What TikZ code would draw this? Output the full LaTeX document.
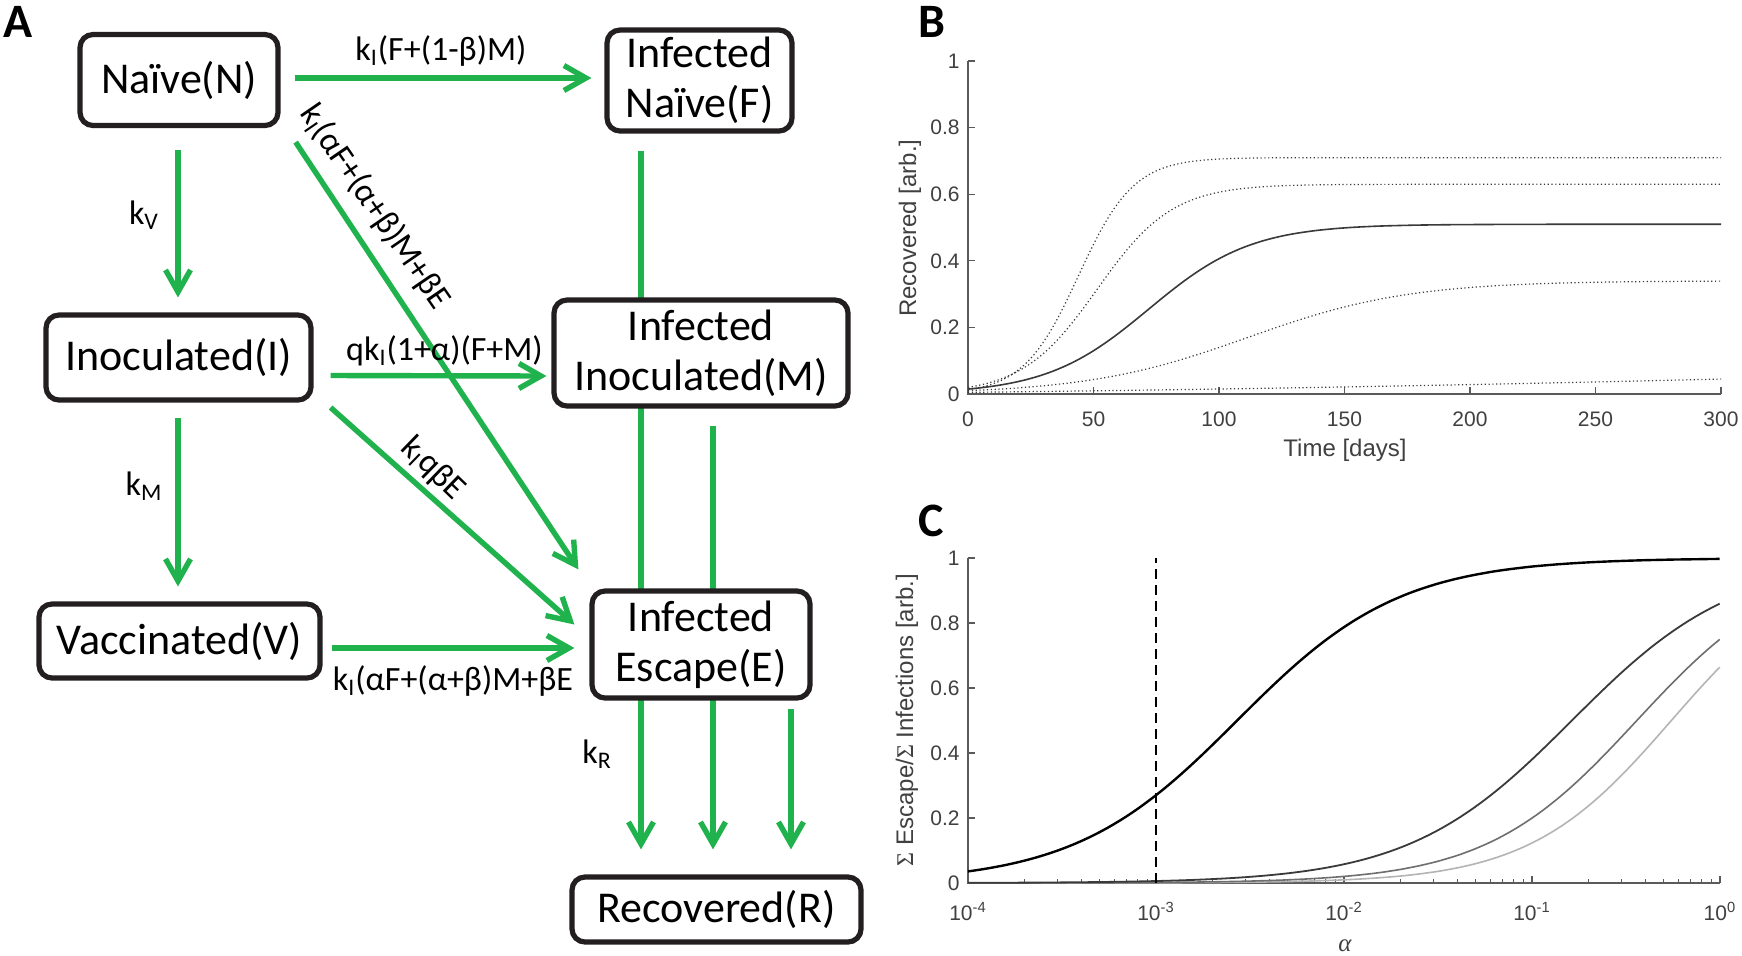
\documentclass[tikz,border=0pt]{standalone}
\usepackage{fontspec}
\setmainfont{Carlito}
\newfontfamily\plotfont{Liberation Sans}
\newfontfamily\grkfont{Liberation Serif}
\usetikzlibrary{arrows.meta,calc,backgrounds}
\definecolor{grn}{RGB}{32,178,76}
\definecolor{boxc}{RGB}{35,31,32}
\definecolor{axc}{RGB}{90,90,90}
\definecolor{txc}{RGB}{64,64,64}
\definecolor{cv2}{RGB}{58,58,58}
\definecolor{cv3}{RGB}{110,110,110}
\definecolor{cv4}{RGB}{180,180,180}
\begin{document}
\begin{tikzpicture}[x=0.5pt,y=-0.5pt,
  box/.style={draw=boxc, line width=2.6pt, rounded corners=6.5pt, fill=white, align=center, inner sep=0pt, font=\fontsize{22}{25}\selectfont},
  flow/.style={draw=grn, line width=2.7pt, -{Straight Barb[length=11pt,width=12.5pt]}},
  lab/.style={font=\fontsize{17}{19}\selectfont, inner sep=0pt},
  panel/.style={font=\bfseries\fontsize{24}{24}\selectfont, inner sep=0pt},
  axisline/.style={draw=axc, line width=0.6pt},
  ticklab/.style={font=\plotfont\fontsize{10.5}{12}\selectfont, text=txc, inner sep=0pt},
  axlab/.style={font=\plotfont\fontsize{12}{14}\selectfont, text=txc, inner sep=0pt},
  dots/.style={draw=cv2, line width=0.6pt, dash pattern=on 0.6pt off 1.3pt},
]
\useasboundingbox (0,0) rectangle (1742,955);

% ---------------- Panel A ----------------
\node[panel] (pA) at (18,22) {A};

\node[box, minimum width=99pt, minimum height=45.5pt] (N) at (179,80) {Naïve(N)};
\node[box, minimum width=92.5pt, minimum height=50.5pt] (F) at (699.5,80.5) {Infected\\Naïve(F)};
\node[box, minimum width=132.5pt, minimum height=42.5pt] (I) at (178.5,357.5) {Inoculated(I)};
\node[box, minimum width=147pt, minimum height=53pt] (M) at (701,353) {Infected\\Inoculated(M)};
\node[box, minimum width=140.5pt, minimum height=37pt] (V) at (179.5,641) {Vaccinated(V)};
\node[box, minimum width=109pt, minimum height=53.5pt] (E) at (701,644.5) {Infected\\Escape(E)};
\node[box, minimum width=144.5pt, minimum height=32.5pt] (R) at (716.5,909.5) {Recovered(R)};

\coordinate (f1) at ($(F.south)+(-58.5,17)$);
\coordinate (m2) at ($(M.south)+(12,17)$);
\coordinate (e3) at ($(E.south)+(90,8)$);
\coordinate (r0) at ($(R.north)+(0,-25)$);

\begin{pgfonlayer}{background}
  \fill[white] (0,0) rectangle (1742,955);
  \draw[flow] (f1) -- (f1 |- r0);
  \draw[flow] (m2) -- (m2 |- r0);
\end{pgfonlayer}
\draw[flow] (e3) -- (e3 |- r0);

\draw[flow] ($(N.east)+(14,-2)$) -- ($(F.west)+(-13,-2.5)$);
\draw[flow] ($(N.south)+(-1,22)$) -- ($(I.north)+(-0.5,-15)$);
\draw[flow] ($(I.south)+(-0.5,15)$) -- ($(V.north)+(-1.5,-15)$);
\draw[flow] ($(I.east)+(17,18)$) -- ($(M.west)+(-5,23)$);
\draw[flow] ($(N.south east)+(15,14)$) -- ($(E.north west)+(-11,-19)$);
\draw[flow] ($(I.east)+(17,50)$) -- ($(E.west)+(-15,-20)$);
\draw[flow] ($(V.east)+(9,7)$) -- ($(E.west)+(-15,3.5)$);

\node[lab] (lNF) at (441,51) {k\textsubscript{I}(F+(1-β)M)};
\node[lab] (lNI) at (144,215) {k\textsubscript{V}};
\node[lab] (lIV) at (144,486) {k\textsubscript{M}};
\node[lab] (lIM) at (444.5,351) {qk\textsubscript{I}(1+α)(F+M)};
\node[lab, rotate=-55.5] (lNE) at (375,207) {k\textsubscript{I}(αF+(α+β)M+βE};
\node[lab, rotate=-44] (lIE) at (433,469) {k\textsubscript{I}qβE};
\node[lab] (lVE) at (453,681) {k\textsubscript{I}(αF+(α+β)M+βE};
\node[lab] (lER) at (597,754) {k\textsubscript{R}};

% ---------------- Panel B ----------------
\node[panel] (pB) at (932,22) {B};
\draw[axisline] (968,61) -- (968,394) -- (1721,394);
\foreach \v [count=\i from 0] in {0,50,100,150,200,250,300}{
  \draw[axisline] ({968+125.5*\i},394) -- ++(0,-7);
  \node[ticklab, anchor=base] at ({968+125.5*\i},426) {\v};
}
\foreach \v [count=\i from 0] in {0,0.2,0.4,0.6,0.8,1}{
  \draw[axisline] (968,{394-66.6*\i}) -- ++(7,0);
  \node[ticklab, anchor=east] at (960,{394-66.6*\i}) {\v};
}
\node[axlab] (xlB) at (1345,450) {Time [days]};
\node[axlab, rotate=90] (ylB) at (910,228) {Recovered [arb.]};

\begin{scope}[shift={(968,394)}, xscale=2.51, yscale=-333]
  \draw[dots] plot[domain=0:300, samples=150] (\x, {0.71/(1+exp(-(\x-44)/11))});
  \draw[dots] plot[domain=0:300, samples=150] (\x, {0.63/(1+exp(-(\x-51.5)/15))});
  \draw[dots] plot[domain=0:300, samples=150] (\x, {0.34/(1+exp(-(\x-111.5)/32))});
  \draw[dots] plot[domain=0:300, samples=150] (\x, {0.005+0.025*(\x/300)+0.015*(\x/300)*(\x/300)});
  \draw[draw=cv2, line width=0.8pt] plot[domain=0:300, samples=150] (\x, {0.51/(1+exp(-(\x-72)/20.5))});
\end{scope}

% ---------------- Panel C ----------------
\node[panel] (pC) at (931,521) {C};
\draw[axisline] (968,558) -- (968,883) -- (1720,883);
\foreach \v [count=\i from 0] in {-4,-3,-2,-1,0}{
  \draw[axisline] ({968+188*\i},883) -- ++(0,-7);
  \node[ticklab, anchor=base] at ({968+188*\i},920) {10\textsuperscript{\v}};
}
\foreach \d in {0,...,3}{
  \foreach \m in {2,...,9}{
    \draw[axisline] ({968+188*(\d+ln(\m)/2.302585)},883) -- ++(0,-4);
  }
}
\foreach \v [count=\i from 0] in {0,0.2,0.4,0.6,0.8,1}{
  \draw[axisline] (968,{883-65*\i}) -- ++(7,0);
  \node[ticklab, anchor=east] at (960,{883-65*\i}) {\v};
}
\node[axlab, rotate=90] (ylC) at (907,720) {{\grkfont Σ} Escape/{\grkfont Σ} Infections [arb.]};
\node[axlab, font=\grkfont\itshape\fontsize{12.5}{13}\selectfont] (xlC) at (1345,946) {α};

\begin{scope}[shift={(968,883)}, xscale=188, yscale=-325]
  \draw[draw=cv4, line width=0.8pt] plot[domain=-4:0, samples=120] ({\x+4}, {pow(10,1.15*\x)/(pow(10,1.15*\x)+0.504)});
  \draw[draw=cv3, line width=0.8pt] plot[domain=-4:0, samples=120] ({\x+4}, {pow(10,1.08*\x)/(pow(10,1.08*\x)+0.333)});
  \draw[draw=cv2, line width=0.9pt] plot[domain=-4:0, samples=120] ({\x+4}, {1/(1+0.163*pow(10,-\x))});
  \draw[draw=black, line width=1.2pt] plot[domain=-4:0, samples=120] ({\x+4}, {1/(1+0.0027*pow(10,-\x))});
\end{scope}
\draw[black, line width=0.6pt, dash pattern=on 5pt off 3pt] (1156,883) -- (1156,558);

\end{tikzpicture}
\end{document}
